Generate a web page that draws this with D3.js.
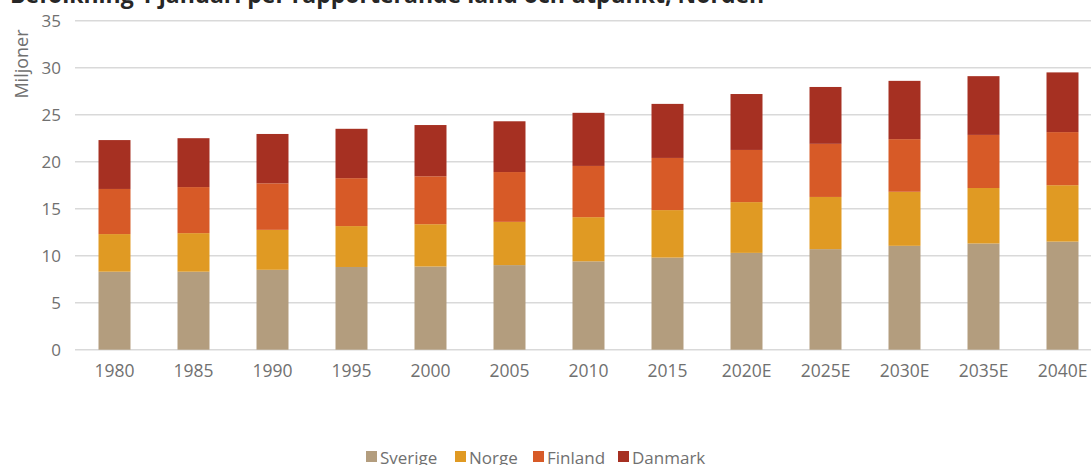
<!DOCTYPE html>
<html><head><meta charset="utf-8">
<script src="https://cdn.jsdelivr.net/npm/d3@7"></script>
<style>
body{margin:0;background:#fff;}
svg text{font-family:"Open Sans",Lato,sans-serif;}
</style></head>
<body><svg id="c" width="1091" height="465"></svg>
<script>
const categories = ["1980","1985","1990","1995","2000","2005","2010","2015","2020E","2025E","2030E","2035E","2040E"];
const seriesNames = ["Sverige","Norge","Finland","Danmark"];
const sverige = [8.3,8.3,8.5,8.8,8.85,9.0,9.4,9.8,10.3,10.7,11.05,11.3,11.5];
const norge   = [4.0,4.1,4.25,4.35,4.5,4.6,4.7,5.05,5.4,5.55,5.75,5.9,6.0];
const finland = [4.8,4.9,4.95,5.1,5.1,5.3,5.45,5.55,5.55,5.65,5.6,5.65,5.65];
const danmark = [5.2,5.2,5.25,5.25,5.45,5.4,5.65,5.75,5.95,6.05,6.2,6.25,6.35];
const yTicks = [0,5,10,15,20,25,30,35];
const colors = ["#b39d7e","#e09a23","#d75a27","#a63022"];
const title = "Befolkning 1 januari per rapporterande land och utpunkt, Norden";

const svg = d3.select("#c");
const x = d3.scaleBand().domain(categories).range([75,1102]).paddingInner(0.595).paddingOuter(0.2975);
const y = d3.scaleLinear().domain([0,35]).range([349.7,20.7]);

svg.append("g").selectAll("line").data(yTicks).join("line")
  .attr("x1",75).attr("x2",1091).attr("y1",d=>y(d)).attr("y2",d=>y(d))
  .attr("stroke","#d9d9d9").attr("stroke-width",1.5);

const yAxis = d3.axisLeft(y).tickValues(yTicks).tickSize(0).tickPadding(0);
const gy = svg.append("g").attr("transform","translate(61,0)").call(yAxis);
gy.select(".domain").remove();
gy.selectAll("text").attr("font-size",17).attr("fill","#707070").attr("dy","0.35em").attr("font-family","Open Sans, sans-serif");

const xAxis = d3.axisBottom(x).tickSize(0).tickPadding(0);
const gx = svg.append("g").attr("transform","translate(0,365)").call(xAxis);
gx.select(".domain").remove();
gx.selectAll("text").attr("font-size",17.5).attr("fill","#707070").attr("dy","0.71em").attr("font-family","Open Sans, sans-serif");

const rows = categories.map((c,i)=>({cat:c,Sverige:sverige[i],Norge:norge[i],Finland:finland[i],Danmark:danmark[i]}));
const stacked = d3.stack().keys(seriesNames)(rows);
svg.append("g").selectAll("g").data(stacked).join("g")
  .attr("fill",(d,i)=>colors[i])
  .selectAll("rect").data(d=>d).join("rect")
  .attr("x",d=>x(d.data.cat)).attr("width",x.bandwidth())
  .attr("y",d=>y(d[1])).attr("height",d=>y(d[0])-y(d[1]));

svg.append("text").attr("transform","translate(28,64) rotate(-90)")
  .attr("text-anchor","middle").attr("font-size",18).attr("fill","#707070").text("Miljoner");

svg.append("text").attr("x",10).attr("y",3).attr("font-size",23).attr("font-weight","bold")
  .attr("fill","#262626").text(title);

const legX = [366,455,533,618];
const lg = svg.append("g").selectAll("g").data(seriesNames).join("g")
  .attr("transform",(d,i)=>`translate(${legX[i]},0)`);
lg.append("rect").attr("x",0).attr("y",451).attr("width",11).attr("height",11).attr("fill",(d,i)=>colors[i]);
lg.append("text").attr("x",14).attr("y",464).attr("font-size",17).attr("fill","#707070").text(d=>d);
</script></body></html>
